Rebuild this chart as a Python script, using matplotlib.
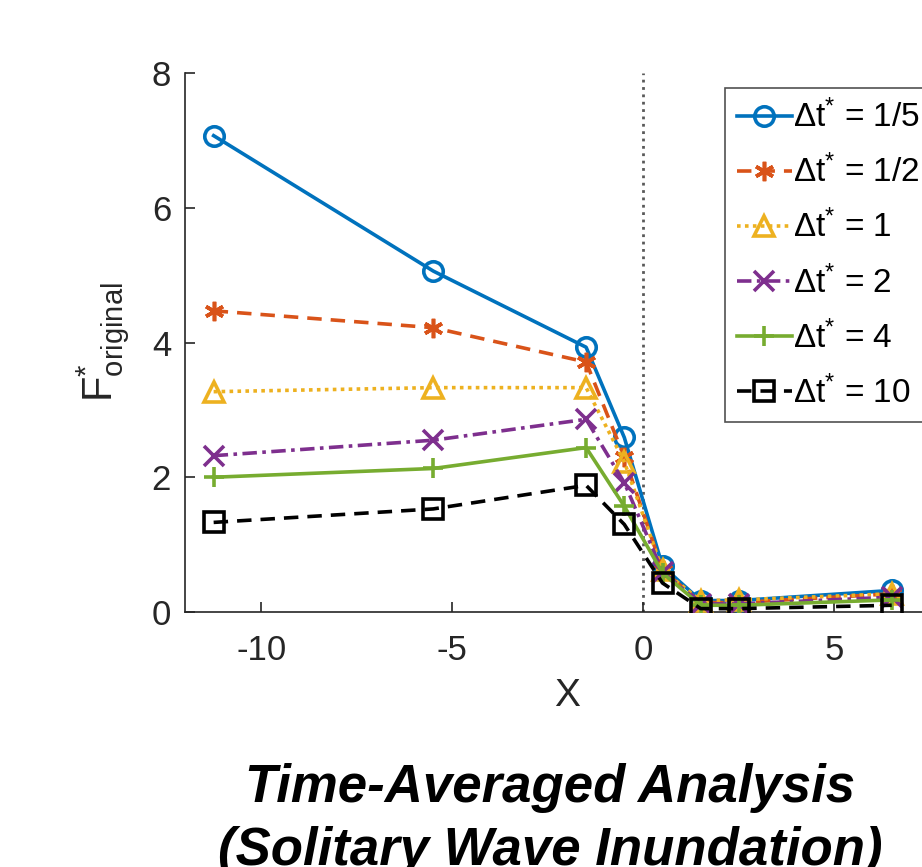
import numpy as np
import matplotlib
matplotlib.use("Agg")
import matplotlib.pyplot as plt

plt.rcParams['font.family'] = ['Liberation Sans', 'DejaVu Sans']
plt.rcParams['mathtext.fontset'] = 'custom'
plt.rcParams['mathtext.rm'] = 'Liberation Sans'
plt.rcParams['mathtext.it'] = 'Liberation Sans:italic'
plt.rcParams['axes.unicode_minus'] = False

# station positions
x = [-11.25, -5.5, -1.5, -0.5, 0.5, 1.5, 2.5, 6.5]

# F* for each time step
f_1_5 = [7.07, 5.06, 3.93, 2.59, 0.68, 0.17, 0.17, 0.32]
f_1_2 = [4.47, 4.22, 3.71, 2.30, 0.62, 0.14, 0.14, 0.27]
f_1 = [3.27, 3.33, 3.33, 2.23, 0.62, 0.17, 0.18, 0.27]
f_2 = [2.32, 2.55, 2.86, 1.92, 0.60, 0.12, 0.12, 0.22]
f_4 = [2.00, 2.13, 2.44, 1.57, 0.58, 0.10, 0.10, 0.18]
f_10 = [1.33, 1.53, 1.88, 1.30, 0.43, 0.05, 0.05, 0.10]

labels = ['1/5', '1/2', '1', '2', '4', '10']
series = [f_1_5, f_1_2, f_1, f_2, f_4, f_10]
colors = ['#0072BD', '#D95319', '#EDB120', '#7E2F8E', '#77AC30', '#000000']
styles = ['-', (0, (4, 2.5)), (0, (1, 1.2)), (0, (4, 1.5, 1, 1.5)), '-', (0, (4, 2.5))]
markers = ['o', (6, 2, 0), '^', 'x', '+', 's']

fig = plt.figure(figsize=(9.22, 8.67), dpi=100)
ax = fig.add_axes([185/922, 1-612/867, 764/922, 539/867])

ax.axvline(0, color='0.35', ls=':', lw=2, zorder=1)

for y, lab, c, ls, m in zip(series, labels, colors, styles, markers):
    filled = m in ('x', '+') or isinstance(m, tuple)
    ax.plot(x, y, color=c, ls=ls, lw=2.6, marker=m, markersize=14,
            markerfacecolor=c if filled else 'none', markeredgecolor=c,
            markeredgewidth=2.6,
            label=r'$\mathregular{\Delta t^{*}}$ = ' + lab, zorder=3)

ax.set_xlim(-12, 8)
ax.set_ylim(0, 8)
ax.set_xticks([-10, -5, 0, 5])
ax.set_yticks([0, 2, 4, 6, 8])
for s in ['top', 'right']:
    ax.spines[s].set_visible(False)
for s in ['left', 'bottom']:
    ax.spines[s].set_color('0.15')
    ax.spines[s].set_linewidth(1.2)
ax.tick_params(direction='in', length=7, width=1.2, colors='0.15', labelsize=25)
ax.tick_params(axis='x', pad=16)
ax.tick_params(axis='y', pad=10)

ax.set_xlabel('X', fontsize=28, color='0.15', labelpad=8)
ax.set_ylabel(r'$\mathregular{F^{*}_{original}}$', fontsize=30, color='0.15')
ax.yaxis.set_label_coords(-0.07, 0.5)

leg = fig.legend(loc='upper left', bbox_to_anchor=(725/922, 1-88/867),
                 borderaxespad=0, fontsize=24, frameon=True, fancybox=False,
                 edgecolor='0.15', handlelength=1.65, handletextpad=0.05,
                 labelspacing=0.62, borderpad=0.35)
leg.get_frame().set_linewidth(1.2)

fig.text(0.597, 1-802/867, 'Time-Averaged Analysis', fontsize=38,
         fontweight='bold', fontstyle='italic', ha='center', va='baseline')
fig.text(0.597, 1-865/867, '(Solitary Wave Inundation)', fontsize=38,
         fontweight='bold', fontstyle='italic', ha='center', va='baseline')

fig.savefig('out.png', dpi=100)
